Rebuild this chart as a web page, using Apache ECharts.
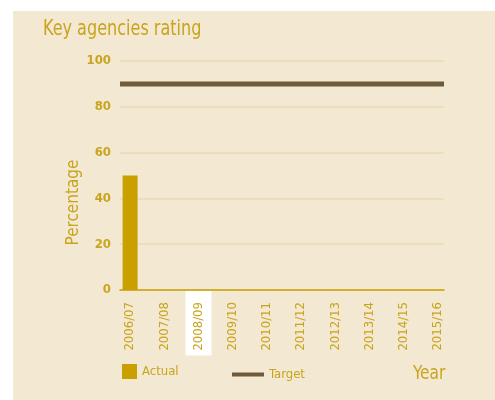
<!DOCTYPE html>
<html><head><meta charset="utf-8">
<script src="https://cdn.jsdelivr.net/npm/echarts@6/dist/echarts.min.js"></script>
<style>html,body{margin:0;padding:0;background:#fff}#c{width:495px;height:400px}</style>
</head><body><div id="c"></div>
<script>
const categories = ['2006/07','2007/08','2008/09','2009/10','2010/11','2011/12','2012/13','2013/14','2014/15','2015/16'];
const actual = [50, null, null, null, null, null, null, null, null, null];
const target = [90, 90, 90, 90, 90, 90, 90, 90, 90, 90];
const yTicks = [0, 20, 40, 60, 80, 100];
const highlighted = '2008/09';

const gold = '#c9a41c';
const goldBar = '#c9a000';
const brown = '#6f5a3c';
const beige = '#f3e8d2';
const font = '"DejaVu Sans Condensed", "Liberation Sans Narrow", sans-serif';

const chart = echarts.init(document.getElementById('c'), null, {renderer: 'canvas'});
const gTop = 61, gBottom = 400 - 290;
chart.setOption({
  backgroundColor: '#ffffff',
  animation: false,
  textStyle: {fontFamily: font},
  graphic: [
    {type: 'rect', z: -10, shape: {x: 13, y: 11, width: 482, height: 389}, style: {fill: beige}},
    {type: 'text', x: 43, y: 19, scaleX: 0.85, originX: 0, originY: 0,
     style: {text: 'Key agencies rating', fill: gold, font: '21px ' + font}},
    {type: 'text', x: 413, y: 365, scaleX: 0.9, originX: 0, originY: 0,
     style: {text: 'Year', fill: gold, font: '19px ' + font}}
  ],
  legend: [
    {left: 122, top: 364, padding: 0, itemWidth: 15, itemHeight: 15, itemGap: 6,
     textStyle: {color: gold, fontSize: 13, fontFamily: font},
     data: [{name: 'Actual', icon: 'rect'}]},
    {left: 232, top: 368, padding: 0, itemWidth: 32, itemHeight: 4, itemGap: 7,
     textStyle: {color: gold, fontSize: 13, fontFamily: font},
     data: [{name: 'Target', icon: 'rect', itemStyle: {color: brown}}]}
  ],
  grid: [
    {left: 120, width: 324, top: gTop, bottom: gBottom},
    {left: 113, width: 342, top: gTop, bottom: gBottom}
  ],
  xAxis: [
    {type: 'category', gridIndex: 0, data: categories, boundaryGap: false,
     axisLine: {show: true, lineStyle: {color: goldBar, width: 1.5}},
     axisTick: {show: false}, axisLabel: {show: false}, splitLine: {show: false}},
    {type: 'category', gridIndex: 1, boundaryGap: true,
     data: categories.map(c => ({value: c, textStyle: {
       backgroundColor: c === highlighted ? '#ffffff' : 'transparent',
       padding: [5, 11, 8, 5]}})),
     axisLine: {show: false}, axisTick: {show: false},
     axisLabel: {rotate: 90, color: gold, fontSize: 13, fontFamily: font, margin: 1, interval: 0}}
  ],
  yAxis: [
    {type: 'value', gridIndex: 0, min: 0, max: 100, interval: 20,
     name: 'Percentage', nameLocation: 'middle', nameGap: 36, nameRotate: 90, nameMoveOverlap: false,
     nameTextStyle: {color: gold, fontSize: 17, fontFamily: font, padding: [0, 54, 0, 0], lineHeight: 20},
     axisLine: {show: false}, axisTick: {show: false},
     axisLabel: {color: gold, fontSize: 13, fontWeight: 'bold', margin: 9, fontFamily: font},
     splitLine: {lineStyle: {color: '#eadbb0', width: 1.5}}},
    {type: 'value', gridIndex: 1, min: 0, max: 100, interval: 20, show: false, splitLine: {show: false}}
  ],
  series: [
    {name: 'Actual', type: 'bar', xAxisIndex: 1, yAxisIndex: 1, data: actual, barWidth: 15,
     itemStyle: {color: goldBar}, z: 3},
    {name: 'Target', type: 'line', xAxisIndex: 0, yAxisIndex: 0, data: target, symbol: 'none',
     lineStyle: {color: brown, width: 5}, itemStyle: {color: brown}, z: 4}
  ]
});
</script></body></html>
